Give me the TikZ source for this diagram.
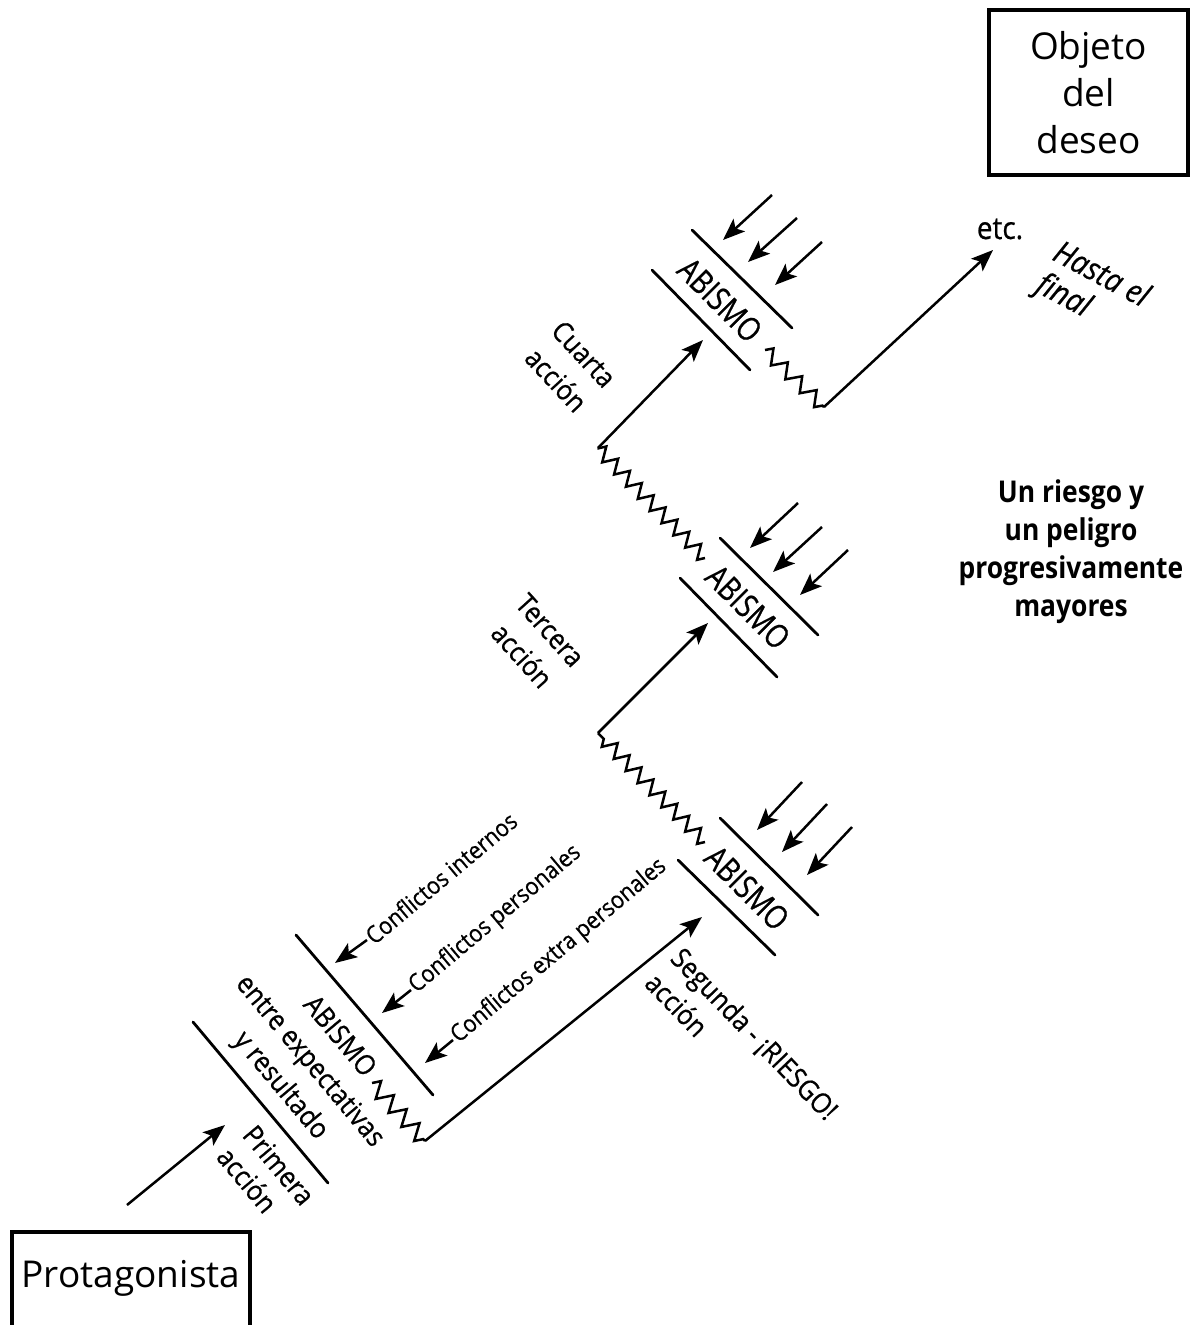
\documentclass[tikz,border=0pt]{standalone}
\usepackage{fontspec}
\setmainfont{Open Sans}
\newfontfamily\cnd[FakeStretch=0.9,FakeBold=0.6]{Open Sans}
\newfontfamily\cndx[FakeStretch=0.82,FakeBold=0.6]{Open Sans}
\newfontfamily\cndb[FakeStretch=0.88]{Open Sans}
\usetikzlibrary{arrows.meta,decorations.pathmorphing}
\tikzset{
  ln/.style={line width=2.8pt, line cap=round},
  arr/.style={line width=2.5pt, -{Stealth[length=22pt,width=17pt,inset=5pt]}},
  zz/.style={line width=2.5pt, decorate, decoration={zigzag, segment length=17pt, amplitude=7pt}},
  boxline/.style={line width=4pt},
  lab/.style={font=\cnd\fontsize{28}{38}\selectfont, inner sep=0pt},
  cfl/.style={font=\cnd\fontsize{24}{28}\selectfont, inner sep=2pt, anchor=west, rotate=40},
  ab/.style={font=\cndx\fontsize{33}{38}\selectfont, inner sep=0pt},
  big/.style={font=\fontsize{37}{47}\selectfont},
}
\begin{document}
\begin{tikzpicture}[x=1pt,y=-1pt]
\useasboundingbox (0,0) rectangle (1199,1325);

% ---------- boxes ----------
\draw[boxline] (12,1345) -- (12,1232) -- (250,1232) -- (250,1345);
\node[big, anchor=base] (prot) at (131,1287) {Protagonista};
\node[big, draw, boxline, minimum width=199pt, minimum height=165pt, align=center] (obj) at (1088.5,92.5) {Objeto\\del\\deseo};

% ---------- block 1 ----------
\coordinate (pA) at (127,1205);
\coordinate (pB) at (225,1125);
\draw[arr] (pA) -- (pB);
\coordinate (b1a) at (193,1022); \coordinate (b1b) at (328,1183);
\coordinate (b2a) at (296,935);  \coordinate (b2b) at (433,1095);
\draw[ln] (b1a) -- (b1b);
\draw[ln] (b2a) -- (b2b);
\node[lab, rotate=-50, align=left, font=\cnd\fontsize{28}{34}\selectfont] (prim) at (266,1176) {Primera\\acción};
\node[lab, rotate=-50, align=center] (ab1) at (309,1062) {ABISMO\\entre expectativas\\y resultado};
\coordinate (z1s) at (372,1083);
\coordinate (z1e) at (425,1141);
\coordinate (a2) at (702,917);
\draw[zz, decoration={segment length=19pt, amplitude=8pt}] (z1s) -- (z1e);
\draw[arr] (z1e) -- (a2);

% conflicts
\node[cfl] (ci) at (367,940) {Conflictos internos};
\node[cfl] (cp) at (411,990) {Conflictos personales};
\node[cfl] (ce) at (453,1040) {Conflictos extra personales};
\coordinate (cih) at (335,963);
\coordinate (cph) at (382,1013);
\coordinate (ceh) at (425,1063);
\draw[arr] (ci.west) -- (cih);
\draw[arr] (cp.west) -- (cph);
\draw[arr] (ce.west) -- (ceh);

\node[lab, rotate=-46, align=left, font=\cnd\fontsize{28}{36}\selectfont] (seg) at (742,1046) {Segunda - ¡RIESGO!\\acción};

% ---------- block 2 ----------
\draw[ln] (678,860) -- (775,955);
\draw[ln] (720,818) -- (818,915);
\node[ab, rotate=-45] (ab2) at (747,888) {ABISMO};
\coordinate (k21) at (802,782); \coordinate (h21) at (757,830);
\coordinate (k22) at (827,804); \coordinate (h22) at (782,852);
\coordinate (k23) at (852,827); \coordinate (h23) at (807,875);
\draw[arr] (k21) -- (h21);
\draw[arr] (k22) -- (h22);
\draw[arr] (k23) -- (h23);
\coordinate (z2s) at (598,733);
\coordinate (z2e) at (705,842);
\draw[zz] (z2e) -- (z2s);
\coordinate (a3) at (708,623);
\draw[arr] (z2s) -- (a3);
\node[lab, rotate=-48, align=center] (ter) at (536,643) {Tercera\\acción};

% ---------- block 3 ----------
\draw[ln] (680,578) -- (777,677);
\draw[ln] (720,538) -- (818,635);
\node[ab, rotate=-45] (ab3) at (748,607) {ABISMO};
\coordinate (k31) at (798,503); \coordinate (h31) at (750,548);
\coordinate (k32) at (822,527); \coordinate (h32) at (773,572);
\coordinate (k33) at (848,550); \coordinate (h33) at (800,595);
\draw[arr] (k31) -- (h31);
\draw[arr] (k32) -- (h32);
\draw[arr] (k33) -- (h33);
\coordinate (z3s) at (598,448);
\coordinate (z3e) at (705,558);
\draw[zz] (z3e) -- (z3s);
\coordinate (a4) at (703,340);
\draw[arr] (z3s) -- (a4);
\node[lab, rotate=-47, align=center] (cua) at (570,367) {Cuarta\\acción};

% ---------- block 4 ----------
\draw[ln] (652,270) -- (750,370);
\draw[ln] (692,230) -- (792,328);
\node[ab, rotate=-45] (ab4) at (720,300) {ABISMO};
\coordinate (k41) at (772,195); \coordinate (h41) at (723,240);
\coordinate (k42) at (797,218); \coordinate (h42) at (748,262);
\coordinate (k43) at (822,242); \coordinate (h43) at (775,285);
\draw[arr] (k41) -- (h41);
\draw[arr] (k42) -- (h42);
\draw[arr] (k43) -- (h43);
\coordinate (z4s) at (765,350);
\coordinate (z4e) at (824,407);
\draw[zz, decoration={segment length=20pt, amplitude=7pt}] (z4s) -- (z4e);
\node[font=\cnd\fontsize{31}{34}\selectfont, inner sep=0pt] (etc) at (1000,229) {etc.};
\coordinate (a5) at (993,250);
\draw[arr] (z4e) -- (a5);
\node[lab, font=\cnd\itshape\fontsize{32}{36}\selectfont, rotate=-28, align=left] (has) at (1092,292) {Hasta el\\final};

% ---------- right text ----------
\node[font=\cndb\bfseries\fontsize{30}{38}\selectfont, align=center, inner sep=0pt] (rie) at (1071,552) {Un riesgo y\\un peligro\\progresivamente\\mayores};
\end{tikzpicture}
\end{document}
